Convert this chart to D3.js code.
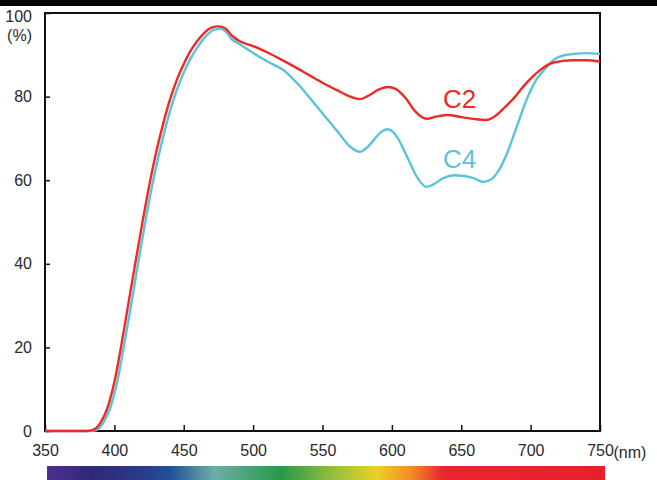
<!DOCTYPE html>
<html>
<head>
<meta charset="utf-8">
<script src="https://cdn.jsdelivr.net/npm/d3@7"></script>
<style>
  html, body { margin: 0; padding: 0; background: #fff; }
  svg { display: block; }
</style>
</head>
<body>
<svg id="chart" width="657" height="480"></svg>
<script>
// ---------- data ----------
const xTicks = [350, 400, 450, 500, 550, 600, 650, 700, 750];
const yTicks = [0, 20, 40, 60, 80, 100];

const c2Wavelength = [350, 370, 380, 385, 390, 395, 400, 405, 410, 415, 420, 425, 430, 435, 440, 445, 450, 455, 460, 465, 470, 475, 480, 485, 490, 500, 510, 520, 530, 540, 550, 560, 570, 577, 583, 590, 597, 603, 610, 617, 625, 632, 640, 650, 660, 668, 675, 680, 687, 695, 700, 707, 716, 730, 740, 750];
const c2Value = [0, 0, 0, 0.3, 2, 5.5, 11.7, 20.5, 30.3, 40, 49.5, 58.5, 66.5, 73.3, 79.2, 84, 87.8, 91, 93.4, 95.3, 96.5, 96.8, 96.3, 94.5, 93.3, 92.1, 90.6, 88.9, 87.1, 85.2, 83.3, 81.6, 80, 79.4, 80.2, 81.6, 82.3, 81.8, 79.6, 76.4, 74.7, 75.2, 75.6, 75.1, 74.6, 74.4, 75.5, 77, 79.3, 82.5, 84.3, 86.4, 88.1, 88.7, 88.7, 88.4];

const c4Wavelength = [350, 370, 382, 387, 392, 397, 402, 407, 412, 417, 422, 427, 432, 437, 442, 447, 452, 457, 462, 467, 472, 476, 480, 485, 490, 497, 505, 515, 522, 528, 534, 540, 546, 552, 558, 564, 570, 577, 582, 587, 592, 597, 601, 604, 611, 618, 625, 630, 637, 645, 652, 659, 666, 672, 676, 683, 690, 697, 704, 712, 716, 726, 740, 750];
const c4Value = [0, 0, 0, 0.2, 2, 5.5, 11.7, 20.5, 30, 40, 49.5, 58.3, 66, 72.8, 78.6, 83.3, 87.2, 90.3, 92.8, 94.8, 96, 96.2, 95.6, 93.6, 92.6, 91.1, 89.4, 87.6, 86.3, 84.5, 82.4, 80, 77.6, 75.2, 72.8, 70.3, 68, 66.8, 67.8, 69.6, 71.5, 72.2, 71.5, 70.2, 65.6, 60.8, 58.4, 59, 60.5, 61.2, 61, 60.5, 59.6, 60.3, 61.8, 66.4, 72.8, 79.2, 84, 87.2, 88.6, 90, 90.4, 90.2];

const seriesNames = ["C2", "C4"];
const seriesColors = ["#ee2a24", "#5cc3da"];

const spectrumStops = [
  [0.00, "#4d2f8e"], [0.08, "#30297a"], [0.17, "#2a3a8c"], [0.22, "#1f4f9c"],
  [0.30, "#6cafa6"], [0.36, "#4aa37a"], [0.42, "#2a9848"], [0.52, "#9cc23c"],
  [0.59, "#ecd024"], [0.65, "#f2902a"], [0.71, "#e8262e"], [1.00, "#e8202c"]
];

// ---------- layout ----------
const svg = d3.select("#chart");
const mLeft = 45, mRight = 600, mTop = 13, mBottom = 431;

const x = d3.scaleLinear().domain([350, 750]).range([mLeft, mRight]);
const y = d3.scaleLinear().domain([0, 100]).range([mBottom, mTop]);

// top black band
svg.append("rect").attr("x", 0).attr("y", 0).attr("width", 657).attr("height", 6).attr("fill", "#000");

// spectrum bar
const defs = svg.append("defs");
const grad = defs.append("linearGradient").attr("id", "spec").attr("x1", "0%").attr("x2", "100%");
spectrumStops.forEach(s => grad.append("stop").attr("offset", s[0]).attr("stop-color", s[1]));
svg.append("rect").attr("x", 47).attr("y", 466).attr("width", 558).attr("height", 14).attr("fill", "url(#spec)");

// frame
svg.append("rect").attr("x", mLeft).attr("y", mTop).attr("width", mRight - mLeft).attr("height", mBottom - mTop)
  .attr("fill", "none").attr("stroke", "#111").attr("stroke-width", 2);

const font = "'Liberation Sans', Arial, sans-serif";

// x axis (ticks pointing inward)
const xAxis = svg.append("g").attr("transform", `translate(0,${mBottom})`)
  .call(d3.axisBottom(x).tickValues(xTicks).tickSizeInner(-6).tickSizeOuter(0).tickPadding(14).tickFormat(d3.format("d")));
xAxis.select(".domain").remove();
xAxis.selectAll(".tick line").attr("stroke", "#111").attr("stroke-width", 1.5);
xAxis.selectAll(".tick text").attr("font-family", font).attr("font-size", 16).attr("fill", "#2a2a2a");
// unit after last label
svg.append("text").attr("x", x(750) + 13.5).attr("y", mBottom + 27)
  .attr("font-family", font).attr("font-size", 16).attr("fill", "#2a2a2a").text("(nm)");

// y axis (ticks pointing inward)
const yAxis = svg.append("g").attr("transform", `translate(${mLeft},0)`)
  .call(d3.axisLeft(y).tickValues(yTicks).tickSizeInner(-5).tickSizeOuter(0).tickPadding(13).tickFormat(d3.format("d")));
yAxis.select(".domain").remove();
yAxis.selectAll(".tick line").attr("stroke", "#111").attr("stroke-width", 1.5);
yAxis.selectAll(".tick text").attr("font-family", font).attr("font-size", 16).attr("fill", "#2a2a2a");
yAxis.selectAll(".tick").filter(d => d === 100).select("text").attr("dy", "0.55em");
svg.append("text").attr("x", mLeft - 13).attr("y", 41).attr("text-anchor", "end")
  .attr("font-family", font).attr("font-size", 16).attr("fill", "#2a2a2a").text("(%)");

// curves
const line = d3.line().x(d => x(d[0])).y(d => y(d[1])).curve(d3.curveMonotoneX);
const series = [
  { name: seriesNames[1], color: seriesColors[1], pts: d3.zip(c4Wavelength, c4Value) },
  { name: seriesNames[0], color: seriesColors[0], pts: d3.zip(c2Wavelength, c2Value) }
];
series.forEach(s => {
  svg.append("path").datum(s.pts).attr("d", line).attr("fill", "none")
    .attr("stroke", s.color).attr("stroke-width", 2.4).attr("stroke-linejoin", "round");
});

// series labels
svg.append("text").attr("x", 443).attr("y", 108).attr("font-family", font).attr("font-size", 26)
  .attr("fill", seriesColors[0]).text(seriesNames[0]);
svg.append("text").attr("x", 443).attr("y", 168).attr("font-family", font).attr("font-size", 26)
  .attr("fill", seriesColors[1]).text(seriesNames[1]);
</script>
</body>
</html>
